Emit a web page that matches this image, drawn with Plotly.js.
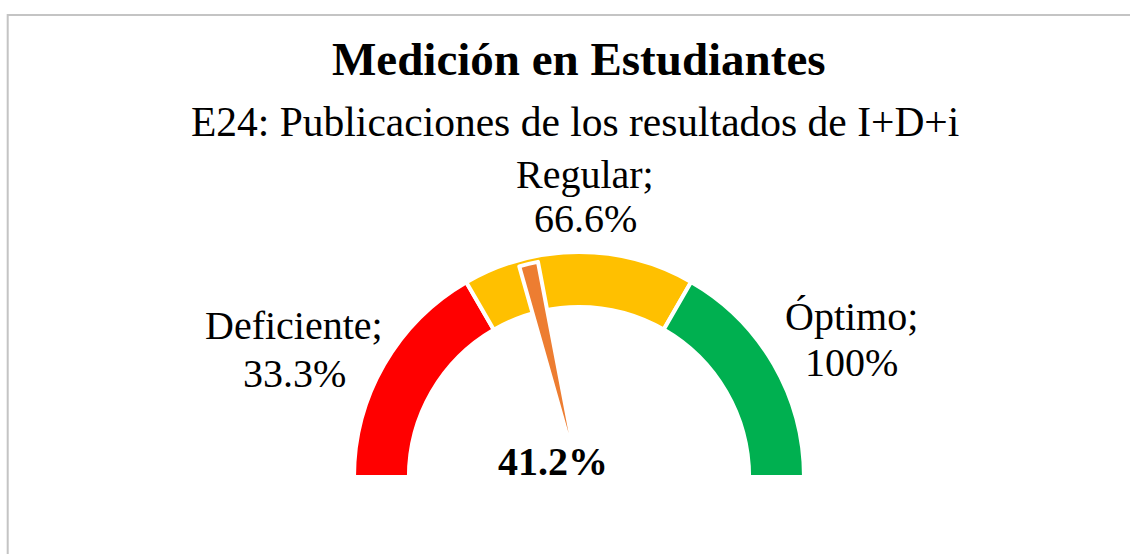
<!DOCTYPE html>
<html>
<head>
<meta charset="utf-8">
<script src="https://cdn.plot.ly/plotly-3.0.1.min.js"></script>
<style>
  html, body { margin: 0; padding: 0; width: 1130px; height: 554px; overflow: hidden; background: #fff; }
  #wrap { width: 1130px; height: 554px; overflow: hidden; position: relative; }
  #chart { width: 1130px; height: 800px; }
</style>
</head>
<body>
<div id="wrap"><div id="chart"></div></div>
<script>
// ---- data ----
const chartTitle = 'Medición en Estudiantes';
const chartSubtitle = 'E24: Publicaciones de los resultados de I+D+i';
const categories = ['Deficiente', 'Regular', 'Óptimo'];
const thresholds = [33.3, 66.6, 100];          // cumulative limits (% of gauge)
const thresholdLabels = ['33.3%', '66.6%', '100%'];
const bandColors = ['#FF0000', '#FFC000', '#00B050'];
const measuredValue = 41.2;                      // needle position (%)
const pointerWidth = 2.8;                        // needle thickness (% of gauge)

// ---- geometry helpers (page pixels -> paper fractions) ----
const W = 1130, H = 800;
const fx = x => x / W;
const fy = y => 1 - y / H;

// band sizes from cumulative thresholds, plus hidden lower half
const bandSizes = thresholds.map((t, i) => +(t - (i ? thresholds[i - 1] : 0)).toFixed(1));
const gaugeValues = bandSizes.concat([100]);
const gaugeColors = bandColors.concat(['rgba(0,0,0,0)']);
const gaugeLines = ['#FFFFFF', '#FFFFFF', '#FFFFFF', 'rgba(0,0,0,0)'];

const needleValues = [measuredValue, pointerWidth, 200 - measuredValue - pointerWidth];
const needleColors = ['rgba(0,0,0,0)', '#ED7D31', 'rgba(0,0,0,0)'];
const needleLines = ['rgba(0,0,0,0)', '#FFFFFF', 'rgba(0,0,0,0)'];

const cx = 579, cy = 477;     // gauge centre (px)
const rOuter = 225, rNeedle = 219;

const gauge = {
  type: 'pie', values: gaugeValues, sort: false, direction: 'clockwise', rotation: -90,
  hole: 0.756, textinfo: 'none', hoverinfo: 'none', showlegend: false,
  marker: { colors: gaugeColors, line: { color: gaugeLines, width: 4 } },
  domain: { x: [fx(cx - rOuter), fx(cx + rOuter)], y: [fy(cy + rOuter), fy(cy - rOuter)] }
};
const needle = {
  type: 'pie', values: needleValues, sort: false, direction: 'clockwise', rotation: -90,
  textinfo: 'none', hoverinfo: 'none', showlegend: false,
  marker: { colors: needleColors, line: { color: needleLines, width: 4 } },
  domain: { x: [fx(cx - rNeedle), fx(cx + rNeedle)], y: [fy(cy + rNeedle), fy(cy - rNeedle)] }
};

const serif = 'Liberation Serif, Times New Roman, serif';
function ann(text, x, y, size, bold) {
  return {
    text: bold ? '<b>' + text + '</b>' : text, x: fx(x), y: fy(y), xref: 'paper', yref: 'paper',
    xanchor: 'center', yanchor: 'middle', showarrow: false,
    font: { family: serif, size: size, color: '#000000' }
  };
}
const labelPos = [[294, 325.5, 373], [585, 174, 219], [851, 316, 362]];
const annotations = [
  ann(chartTitle, 579, 59, 47, true),
  ann(chartSubtitle, 575, 122, 41.5, false),
  ann(measuredValue.toFixed(1) + '%', 553, 461.5, 40, true)
];
categories.forEach((c, i) => {
  annotations.push(ann(c + ';', labelPos[i][0], labelPos[i][1], 40, false));
  annotations.push(ann(thresholdLabels[i], labelPos[i][0], labelPos[i][2], 40, false));
});

const layout = {
  width: W, height: H, margin: { l: 0, r: 0, t: 0, b: 0 },
  paper_bgcolor: '#FFFFFF', plot_bgcolor: '#FFFFFF',
  showlegend: false, annotations: annotations,
  shapes: [{
    type: 'rect', xref: 'paper', yref: 'paper',
    x0: fx(7.7), x1: 1.05, y0: -0.1, y1: fy(15),
    line: { color: '#C4C4C4', width: 2 }, fillcolor: 'rgba(0,0,0,0)'
  }]
};

Plotly.newPlot('chart', [gauge, needle], layout, { staticPlot: true, displayModeBar: false });
</script>
</body>
</html>
